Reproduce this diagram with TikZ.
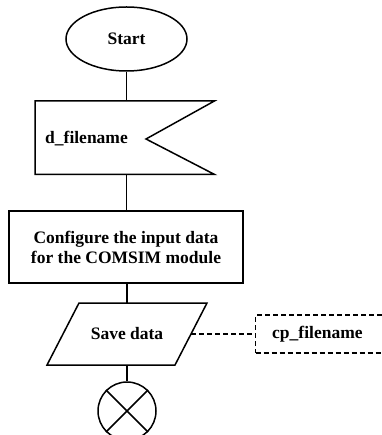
\documentclass[tikz,border=0pt]{standalone}
\usepackage{fontspec}
\setmainfont{Liberation Serif}
\usetikzlibrary{shapes.geometric,calc}
\tikzset{
  x=1pt, y=-1pt,
  lw/.style={line width=1.5pt},
  txt/.style={font=\fontsize{17.5}{20}\selectfont\bfseries, inner sep=0pt},
  dashedlw/.style={line width=1.3pt, dash pattern=on 5pt off 3pt}
}
\begin{document}
\begin{tikzpicture}
\useasboundingbox (0,0) rectangle (381,435);
% Start
\node[ellipse, draw, lw, minimum width=121, minimum height=64, inner sep=0pt, txt] (start) at (126.5,39) {Start};
% flag (input)
\node[minimum width=179, minimum height=73, anchor=north west, inner sep=0pt] (flag) at (35,101) {};
\coordinate (notch) at (146,139);
\draw[lw, line join=miter] (flag.north west) -- (flag.north east) -- (notch) -- (flag.south east) -- (flag.south west) -- cycle;
\node[txt, anchor=west] (fname) at (45,139) {d\_filename};
% process
\node[draw, lw, minimum width=234, minimum height=72, align=center, txt] (cfg) at (126,247) {Configure the input data\\for the COMSIM module};
% save data parallelogram
\node[minimum width=128, minimum height=62, inner sep=0pt, txt] (save) at (127,334) {Save data};
\coordinate (saveR) at (191,334);
\draw[lw, line join=miter] (79,303) -- (207,303) -- (175,365) -- (47,365) -- cycle;
% dashed data box
\node[dashedlw, draw, minimum width=140, minimum height=38, anchor=west, inner sep=0pt] (cp) at (255,334) {};
\node[txt, anchor=west] (cptext) at (272,334) {cp\_filename};
% end circle
\node[circle, draw, lw, minimum size=58, inner sep=0pt] (end) at (127,411) {};
\draw[lw] (end.north west) -- (end.south east);
\draw[lw] (end.north east) -- (end.south west);
% connectors
\draw[lw] (start.south) -- (flag.north -| start.south);
\draw[lw] (flag.south -| start.south) -- (cfg.north -| start.south);
\draw[lw] (cfg.south -| save.north) -- (save.north);
\draw[lw] (save.south) -- (end.north);
\draw[dashedlw] (saveR) -- (cp.west);
\end{tikzpicture}
\end{document}
